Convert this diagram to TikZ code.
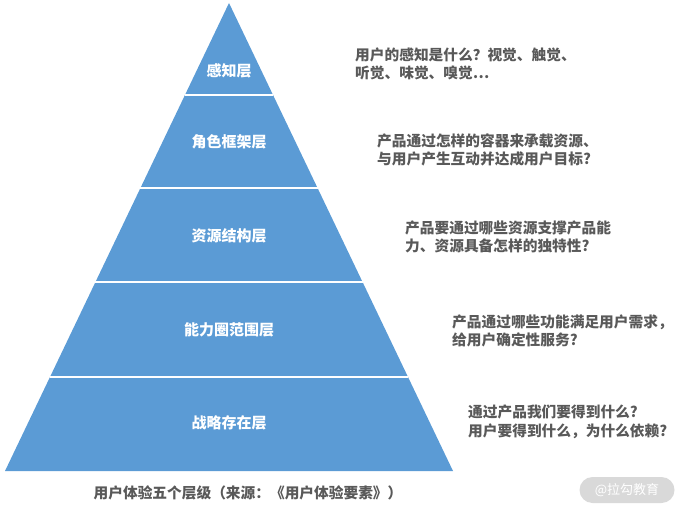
\documentclass[tikz,border=0pt]{standalone}
\usepackage{fontspec}
\setmainfont{Noto Sans CJK SC}
\usetikzlibrary{calc}
\definecolor{pblue}{HTML}{5B9BD5}
\definecolor{tgray}{HTML}{595959}
\definecolor{wmgray}{HTML}{D9D9D9}
\tikzset{
  layerlbl/.style={text=white, font=\fontsize{15}{18}\selectfont\bfseries, inner sep=0pt},
  desc/.style={text=tgray, font=\fontsize{14.7}{18.5}\selectfont\bfseries, align=left, anchor=west, inner sep=0pt},
  divider/.style={white, line width=1.2pt},
}
\begin{document}
\begin{tikzpicture}[x=1pt,y=-1pt]
\useasboundingbox (0,0) rectangle (685,513);
\coordinate (apex) at (229,3);
\coordinate (bl) at (5,471);
\coordinate (br) at (453,471);
\fill[pblue] (apex) -- (bl) -- (br) -- cycle;
\foreach \yy in {95,188,282,377}{
  \pgfmathsetmacro{\hw}{0.478632*(\yy-3)}
  \draw[divider] (229-\hw,\yy) -- (229+\hw,\yy);
}
\node[layerlbl] (l1) at (229,71) {感知层};
\node[layerlbl] (l2) at (229,142) {角色框架层};
\node[layerlbl] (l3) at (229,236) {资源结构层};
\node[layerlbl] (l4) at (229,330) {能力圈范围层};
\node[layerlbl] (l5) at (229,423) {战略存在层};
\node[desc] (d1) at (355,64) {用户的感知是什么？视觉、触觉、\\听觉、味觉、嗅觉…};
\node[desc] (d2) at (377,150) {产品通过怎样的容器来承载资源、\\与用户产生互动并达成用户目标?};
\node[desc] (d3) at (405,237) {产品要通过哪些资源支撑产品能\\力、资源具备怎样的独特性?};
\node[desc] (d4) at (452,331) {产品通过哪些功能满足用户需求，\\给用户确定性服务?};
\node[desc] (d5) at (468,422) {通过产品我们要得到什么?\\用户要得到什么，为什么依赖?};
\node[text=tgray, font=\fontsize{14.7}{18}\selectfont\bfseries, inner sep=0pt] (cap) at (248,493) {用户体验五个层级（来源：《用户体验要素》）};
\node[fill=wmgray, rounded corners=13pt, minimum width=95pt, minimum height=26pt, text=white, font=\fontsize{13}{15}\selectfont, inner sep=0pt] (wm) at (627,490) {@拉勾教育};
\end{tikzpicture}
\end{document}
